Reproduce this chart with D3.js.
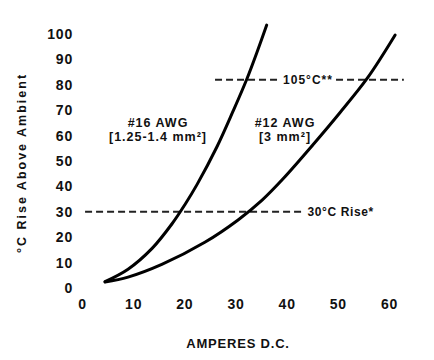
<!DOCTYPE html>
<html>
<head>
<meta charset="utf-8">
<script src="https://cdn.jsdelivr.net/npm/d3@7"></script>
<style>
  html, body { margin: 0; padding: 0; background: #fff; }
  svg { display: block; font-family: "Liberation Sans", Arial, sans-serif; }
</style>
</head>
<body>
<svg id="chart" width="434" height="360"></svg>
<script>
// ---- data ----
const xTicks = [0, 10, 20, 30, 40, 50, 60];
const xTickLabels = ["0", "10", "20", "30", "40", "50", "60"];
const yTicks = [0, 10, 20, 30, 40, 50, 60, 70, 80, 90, 100];
const yTickLabels = ["0", "10", "20", "30", "40", "50", "60", "70", "80", "90", "100"];

const awg16Amps = [4.5, 9, 13.7, 17.6, 20.1, 22.5, 26.4, 29.5, 32.2, 34.5, 36.1];
const awg16Rise = [2.5, 7.4, 15.6, 25.3, 32.8, 40.8, 55.7, 69.5, 82.2, 94.5, 103.5];

const awg12Amps = [4.5, 9, 15.6, 24, 30.5, 35.2, 39.3, 45.1, 50.4, 55.9, 61.2];
const awg12Rise = [2.4, 4.3, 9.3, 18, 26.8, 34.6, 43, 56.3, 69, 83, 99.6];

const refLabels = ["105°C**", "30°C Rise*"];
const refLevels = [82, 30];
const refStart = [26, 0.6];
const refEnd = [62.9, 43.5];

const seriesLabels = [["#16 AWG", "[1.25-1.4 mm²]"], ["#12 AWG", "[3 mm²]"]];

// ---- scales ----
const svg = d3.select("#chart");
const x = d3.scaleLinear().domain([0, 60]).range([82, 389]);
const y = d3.scaleLinear().domain([0, 100]).range([288, 34]);

// ---- axes (no lines, just labels) ----
const yAxis = d3.axisLeft(y).tickValues(yTicks)
  .tickFormat((d, i) => yTickLabels[i]).tickSize(0).tickPadding(9);
const gy = svg.append("g").attr("transform", "translate(82,0)").call(yAxis);
gy.select(".domain").remove();
gy.selectAll("text").attr("font-size", 14).attr("font-weight", "bold")
  .attr("fill", "#111").attr("letter-spacing", 0.8);

const xAxis = d3.axisBottom(x).tickValues(xTicks)
  .tickFormat((d, i) => xTickLabels[i]).tickSize(0).tickPadding(11);
const gx = svg.append("g").attr("transform", "translate(0,288)").call(xAxis);
gx.select(".domain").remove();
gx.selectAll("text").attr("font-size", 14).attr("font-weight", "bold")
  .attr("fill", "#111").attr("letter-spacing", 0.8);

// ---- axis titles ----
svg.append("text")
  .attr("transform", "translate(26,163) rotate(-90)")
  .attr("text-anchor", "middle")
  .attr("font-size", 12.5).attr("font-weight", "bold").attr("fill", "#111")
  .attr("letter-spacing", 2)
  .text("°C Rise Above Ambient");

svg.append("text")
  .attr("x", 238).attr("y", 348)
  .attr("text-anchor", "middle")
  .attr("font-size", 13).attr("font-weight", "bold").attr("fill", "#111")
  .attr("letter-spacing", 0.8)
  .text("AMPERES D.C.");

// ---- reference dashed lines ----
const refLayer = svg.append("g");
refLevels.forEach((lv, i) => {
  refLayer.append("line")
    .attr("x1", x(refStart[i])).attr("x2", x(refEnd[i]))
    .attr("y1", y(lv)).attr("y2", y(lv))
    .attr("stroke", "#222").attr("stroke-width", 2)
    .attr("stroke-dasharray", "7,4");
});
const knock = refLayer.append("rect").attr("fill", "#fff");
const t105 = refLayer.append("text")
  .attr("x", 308).attr("y", y(refLevels[0]))
  .attr("dy", "0.35em").attr("text-anchor", "middle")
  .attr("font-size", 12).attr("font-weight", "bold").attr("fill", "#111")
  .attr("letter-spacing", 1)
  .text(refLabels[0]);
const b = t105.node().getBBox();
knock.attr("x", b.x - 3).attr("y", b.y).attr("width", b.width + 6).attr("height", b.height);

refLayer.append("text")
  .attr("x", x(refEnd[1]) + 3).attr("y", y(refLevels[1]))
  .attr("dy", "0.35em").attr("text-anchor", "start")
  .attr("font-size", 12).attr("font-weight", "bold").attr("fill", "#111")
  .attr("letter-spacing", 0.6)
  .text(refLabels[1]);

// ---- curves ----
const line = d3.line().x(d => x(d[0])).y(d => y(d[1])).curve(d3.curveCatmullRom.alpha(0.5));
const s16 = awg16Amps.map((a, i) => [a, awg16Rise[i]]);
const s12 = awg12Amps.map((a, i) => [a, awg12Rise[i]]);
[s16, s12].forEach(s => {
  svg.append("path").datum(s).attr("d", line)
    .attr("fill", "none").attr("stroke", "#000").attr("stroke-width", 3)
    .attr("stroke-linecap", "round");
});

// ---- series labels ----
const labelPos = [[158, 123], [285, 123]];
seriesLabels.forEach((lines, i) => {
  lines.forEach((txt, j) => {
    svg.append("text")
      .attr("x", labelPos[i][0]).attr("y", labelPos[i][1] + j * 14)
      .attr("dy", "0.35em").attr("text-anchor", "middle")
      .attr("font-size", 12.5).attr("font-weight", "bold").attr("fill", "#111")
      .attr("letter-spacing", 1)
      .text(txt);
  });
});
</script>
</body>
</html>
